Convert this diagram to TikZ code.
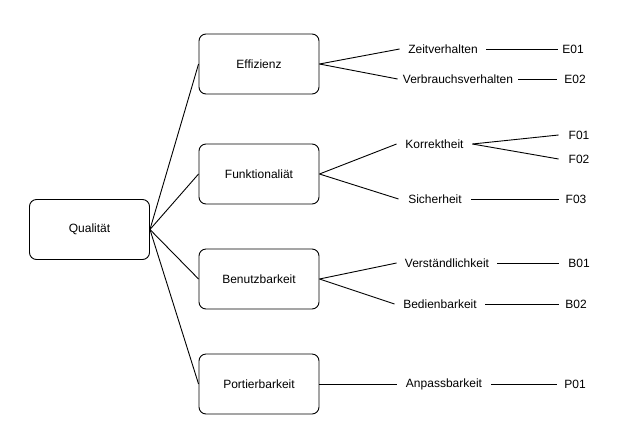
\documentclass[tikz,border=0pt]{standalone}
\usepackage{fontspec}
\setmainfont{Liberation Sans}
\begin{document}
\begin{tikzpicture}[x=1pt,y=-1pt,line width=0.9pt,
  box/.style={draw,rounded corners=7pt,minimum width=120pt,minimum height=60pt,font=\fontsize{12}{14}\selectfont},
  lbl/.style={inner sep=0pt,minimum height=14pt,minimum width=#1,font=\fontsize{12}{14}\selectfont},
  lbl/.default=30pt]
  \useasboundingbox (0,0) rectangle (634,445);
  % main boxes
  \node[box] (qual) at (89.5,229.5) {Qualität};
  \node[box] (eff)  at (259,64)  {Effizienz};
  \node[box] (funk) at (259,174) {Funktionaliät};
  \node[box] (benu) at (259,279) {Benutzbarkeit};
  \node[box] (port) at (259,384) {Portierbarkeit};
  % sub criteria
  \node[lbl=86pt]  (zeit) at (443,49)   {Zeitverhalten};
  \node[lbl=120pt] (verb) at (458,79)   {Verbrauchsverhalten};
  \node[lbl=75pt]  (korr) at (434.5,144) {Korrektheit};
  \node[lbl=72pt]  (sich) at (435,199)  {Sicherheit};
  \node[lbl=100pt] (vers) at (447,263)  {Verständlichkeit};
  \node[lbl=90pt]  (bedi) at (440,304)  {Bedienbarkeit};
  \node[lbl=94pt]  (anpa) at (444,384)  {Anpassbarkeit};
  % leaves
  \node[lbl=30pt] (e01) at (573,49)  {E01};
  \node[lbl=36pt] (e02) at (575,79)  {E02};
  \node[lbl=40pt] (f01) at (579,135) {F01};
  \node[lbl=40pt] (f02) at (579,159) {F02};
  \node[lbl=34pt] (f03) at (576,199) {F03};
  \node[lbl=40pt] (b01) at (579,263) {B01};
  \node[lbl=34pt] (b02) at (576,304) {B02};
  \node[lbl=36pt] (p01) at (575,384) {P01};
  % connectors
  \foreach \n in {eff,funk,benu,port}
    \draw (qual.east) -- (\n.west);
  \draw (eff.east) -- (zeit.west);
  \draw (eff.east) -- (verb.west);
  \draw (funk.east) -- (korr.west);
  \draw (funk.east) -- (sich.west);
  \draw (benu.east) -- (vers.west);
  \draw (benu.east) -- (bedi.west);
  \draw (port.east) -- (anpa.west);
  \draw (zeit.east) -- (e01.west);
  \draw (verb.east) -- (e02.west);
  \draw (korr.east) -- (f01.west);
  \draw (korr.east) -- (f02.west);
  \draw (sich.east) -- (f03.west);
  \draw (vers.east) -- (b01.west);
  \draw (bedi.east) -- (b02.west);
  \draw (anpa.east) -- (p01.west);
\end{tikzpicture}
\end{document}
